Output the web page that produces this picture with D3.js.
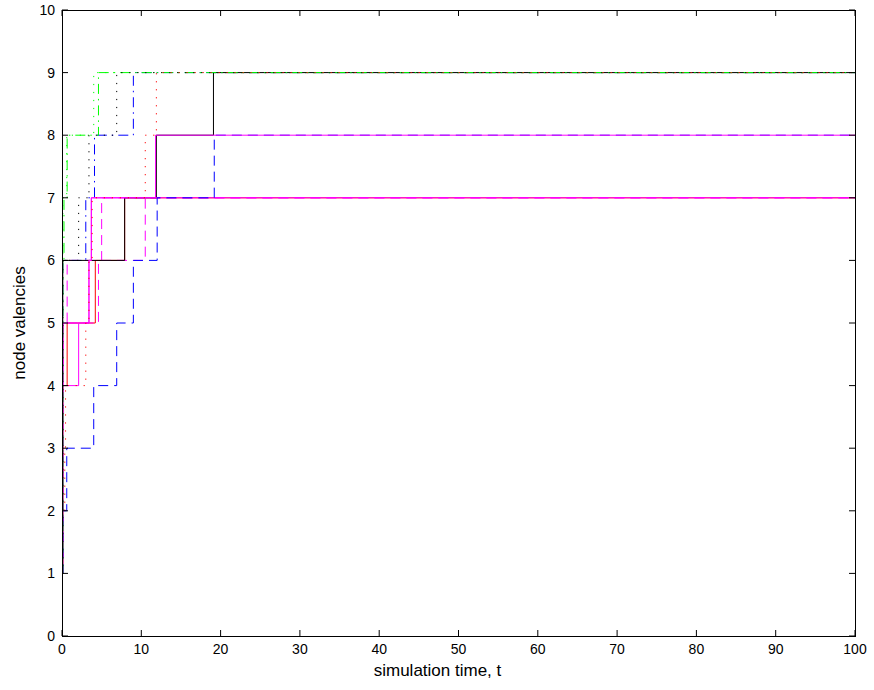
<!DOCTYPE html>
<html>
<head>
<meta charset="utf-8">
<script src="https://cdn.jsdelivr.net/npm/d3@7/dist/d3.min.js"></script>
<style>
  html, body { margin: 0; padding: 0; background: #fff; }
  svg { display: block; }
  text { font-family: "Liberation Sans", Arial, Helvetica, sans-serif; }
</style>
</head>
<body>
<svg id="chart" width="874" height="690"></svg>
<script>
// ---------- data ----------
const xTicks = [0, 10, 20, 30, 40, 50, 60, 70, 80, 90, 100];
const yTicks = [0, 1, 2, 3, 4, 5, 6, 7, 8, 9, 10];
const xLabel = "simulation time, t";
const yLabel = "node valencies";
const tEnd = 100;

// each series: step points [time, valency] (value holds until the next time)
const redSolid      = [[0, 1], [0.1, 4], [0.65, 5], [4.2, 6], [7.9, 7]];
const magDashedA    = [[0, 1], [0.1, 5], [0.65, 6], [10.5, 7]];
const magDashedB    = [[0, 1], [0.1, 5], [4.6, 6], [5.0, 7]];
const blueDashDot   = [[0, 1], [0.1, 6], [3.0, 7], [4.1, 8], [9.0, 9]];
const blackSolid    = [[0, 1], [0.1, 6], [7.9, 7], [11.9, 8], [19.1, 9]];
const magSolidA     = [[0, 1], [0.1, 4], [2.1, 5], [3.4, 6], [3.7, 7]];
const blueDashed    = [[0, 1], [0.1, 2], [0.6, 3], [4.0, 4], [6.9, 5], [9.0, 6], [12.0, 7], [19.2, 8]];
const magSolidB     = [[0, 1], [0.05, 4], [0.15, 5], [3.4, 6], [3.7, 7], [11.8, 8]];
const greenDashDot  = [[0, 1], [0.1, 6], [0.25, 7], [0.65, 8], [4.6, 9]];
const greenDotted   = [[0, 1], [0.1, 7], [0.6, 8], [4.0, 9]];
const blackDotted   = [[0, 1], [0.1, 6], [2.1, 7], [3.4, 8], [6.9, 9]];
const redDotted     = [[0, 0], [0.05, 2], [0.35, 3], [0.45, 4], [3.0, 5], [3.4, 6], [3.8, 7], [10.5, 8], [11.9, 9]];

// draw order and style keys (MATLAB-like colour + line style)
const seriesList = [
  { pts: redSolid,     color: "r", style: "-"  },
  { pts: magDashedA,   color: "m", style: "--" },
  { pts: magDashedB,   color: "m", style: "--" },
  { pts: blueDashDot,  color: "b", style: "-." },
  { pts: blackSolid,   color: "k", style: "-"  },
  { pts: magSolidA,    color: "m", style: "-"  },
  { pts: blueDashed,   color: "b", style: "--" },
  { pts: magSolidB,    color: "m", style: "-"  },
  { pts: greenDashDot, color: "g", style: "-." },
  { pts: greenDotted,  color: "g", style: ":"  },
  { pts: blackDotted,  color: "k", style: ":"  },
  { pts: redDotted,    color: "r", style: ":"  }
];

// ---------- rendering ----------
const colorMap = { r: "#ff0000", g: "#00ff00", b: "#0000ff", m: "#ff00ff", k: "#000000" };
const dashMap  = { "-": null, "--": "10,6", ":": "1.2,6.8", "-.": "10,5,1.5,5" };

const svg = d3.select("#chart");
const plotLeft = 62, plotRight = 855, plotTop = 10, plotBottom = 636;

const x = d3.scaleLinear().domain([0, 100]).range([plotLeft, plotRight]);
const y = d3.scaleLinear().domain([0, 10]).range([plotBottom, plotTop]);

svg.append("rect").attr("x", 0).attr("y", 0).attr("width", 874).attr("height", 690).attr("fill", "#fff");

const clip = svg.append("clipPath").attr("id", "plotclip");
clip.append("rect").attr("x", plotLeft).attr("y", plotTop)
  .attr("width", plotRight - plotLeft).attr("height", plotBottom - plotTop);

const line = d3.line()
  .x(d => x(d[0]))
  .y(d => y(d[1]))
  .curve(d3.curveStepAfter);

const plot = svg.append("g").attr("clip-path", "url(#plotclip)");
seriesList.forEach(s => {
  const data = s.pts.concat([[tEnd, s.pts[s.pts.length - 1][1]]]);
  plot.append("path")
    .datum(data)
    .attr("fill", "none")
    .attr("stroke", colorMap[s.color])
    .attr("stroke-width", 1)
    .attr("stroke-dasharray", dashMap[s.style])
    .attr("d", line);
});

// axes (MATLAB box with inward ticks on all four sides)
const tickLen = 6;
const axisG = svg.append("g").attr("stroke", "#000").attr("stroke-width", 1).attr("fill", "none");

axisG.append("rect")
  .attr("x", plotLeft).attr("y", plotTop)
  .attr("width", plotRight - plotLeft).attr("height", plotBottom - plotTop)
  .attr("shape-rendering", "crispEdges");

xTicks.forEach(t => {
  axisG.append("line").attr("x1", x(t)).attr("x2", x(t)).attr("y1", plotBottom).attr("y2", plotBottom - tickLen);
  axisG.append("line").attr("x1", x(t)).attr("x2", x(t)).attr("y1", plotTop).attr("y2", plotTop + tickLen);
});
yTicks.forEach(v => {
  axisG.append("line").attr("x1", plotLeft).attr("x2", plotLeft + tickLen).attr("y1", y(v)).attr("y2", y(v));
  axisG.append("line").attr("x1", plotRight).attr("x2", plotRight - tickLen).attr("y1", y(v)).attr("y2", y(v));
});

const labG = svg.append("g").attr("fill", "#000").attr("font-size", 14);
xTicks.forEach(t => {
  labG.append("text").attr("x", x(t)).attr("y", plotBottom + 18).attr("text-anchor", "middle").text(t);
});
yTicks.forEach(v => {
  labG.append("text").attr("x", plotLeft - 7).attr("y", y(v) + 5).attr("text-anchor", "end").text(v);
});

labG.append("text")
  .attr("x", (plotLeft + plotRight) / 2 - 21).attr("y", 676)
  .attr("font-size", 17)
  .attr("text-anchor", "middle").text(xLabel);

labG.append("text")
  .attr("transform", `translate(${25},${(plotTop + plotBottom) / 2}) rotate(-90)`)
  .attr("font-size", 17)
  .attr("text-anchor", "middle").text(yLabel);
</script>
</body>
</html>
